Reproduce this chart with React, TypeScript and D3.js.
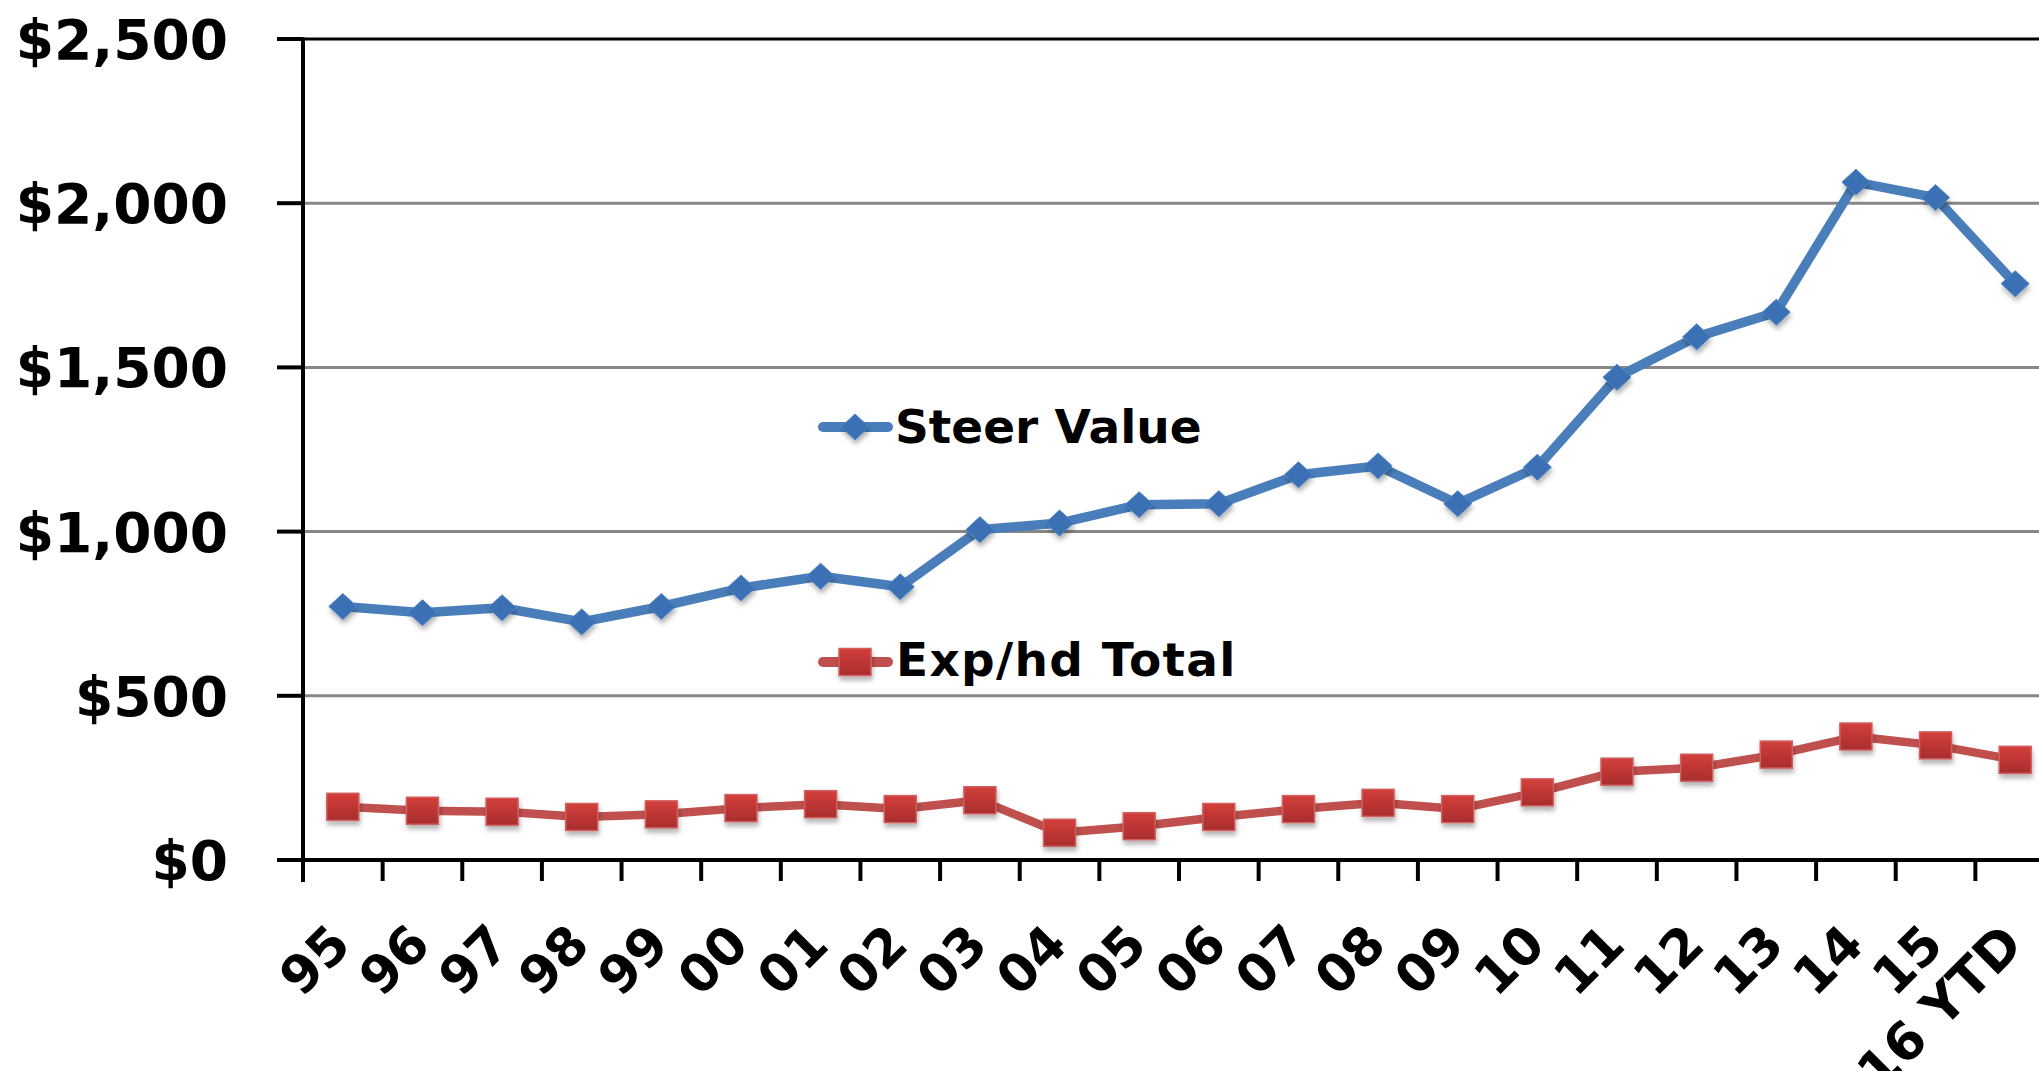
import React from 'react'
import * as d3 from 'd3'

const width = 2039
const height = 1071
const margin = { top: 39, left: 303, bottom: 860, right: 2055 }

const categories = ['95', '96', '97', '98', '99', '00', '01', '02', '03', '04', '05', '06', '07', '08', '09', '10', '11', '12', '13', '14', '15', '16 YTD']
const steerValue = [772, 753, 768, 725, 772, 828, 864, 832, 1006, 1026, 1082, 1085, 1173, 1200, 1085, 1196, 1470, 1593, 1668, 2064, 2017, 1755]
const expPerHead = [162, 150, 147, 131, 139, 158, 170, 155, 182, 83, 103, 131, 155, 174, 155, 206, 269, 281, 321, 376, 349, 305]
const yTicks = [0, 500, 1000, 1500, 2000, 2500]

const blue = '#4a7ebb'
const blueMarker = '#3a6fb5'
const red = '#c0504d'
const font = '"DejaVu Sans", Verdana, sans-serif'

const x = d3.scaleBand().domain(categories).range([margin.left, margin.right])
const y = d3.scaleLinear().domain([0, 2500]).range([margin.bottom, margin.top])
const fmt = d3.format('$,')

const cx = (c: string) => (x(c) as number) + x.bandwidth() / 2

const Diamond = ({ px, py }: { px: number; py: number }) => (
  <path
    d={`M${px},${py - 13} L${px + 14},${py} L${px},${py + 13} L${px - 14},${py} Z`}
    fill={blueMarker}
    stroke="#4f86c6"
    strokeWidth={1}
    filter="url(#shadow)"
  />
)

const Square = ({ px, py }: { px: number; py: number }) => (
  <rect x={px - 16} y={py - 13.5} width={32} height={27} fill="url(#redGrad)" stroke="#d06060" strokeWidth={1.5} filter="url(#shadow)" />
)

const App = () => {
  const line = d3.line<number>().x((d, i) => cx(categories[i])).y(d => y(d))

  return (
    <svg width={width} height={height} style={{ position: 'absolute', left: 0, top: 0, background: '#fff' }}>
      <defs>
        <filter id="shadow" x="-50%" y="-50%" width="200%" height="200%">
          <feDropShadow dx="1" dy="4" stdDeviation="2.5" floodColor="#000" floodOpacity="0.3" />
        </filter>
        <linearGradient id="redGrad" x1="0" y1="0" x2="0" y2="1">
          <stop offset="0" stopColor="#d43f3c" />
          <stop offset="1" stopColor="#a82d2c" />
        </linearGradient>
      </defs>

      {/* gridlines */}
      {yTicks.filter(t => t > 0).map(t => (
        <line key={t} x1={margin.left} x2={width} y1={y(t)} y2={y(t)} stroke={t === 2500 ? '#000' : '#878787'} strokeWidth={3} />
      ))}

      {/* y axis */}
      <line x1={margin.left} x2={margin.left} y1={y(2500) - 1.5} y2={y(0) + 22} stroke="#000" strokeWidth={4} />
      {yTicks.map(t => (
        <g key={t}>
          <line x1={277} x2={margin.left} y1={y(t)} y2={y(t)} stroke="#000" strokeWidth={4} />
          <text x={228} y={y(t) + 20} textAnchor="end" fontFamily={font} fontWeight="bold" fontSize={55}>
            {fmt(t)}
          </text>
        </g>
      ))}

      {/* x axis */}
      <line x1={margin.left - 26} x2={width} y1={y(0)} y2={y(0)} stroke="#000" strokeWidth={4} />
      {categories.map(c => (
        <line key={c} x1={x(c) as number} x2={x(c) as number} y1={y(0)} y2={y(0) + 21} stroke="#000" strokeWidth={4} />
      ))}
      {categories.map(c => (
        <text
          key={c}
          transform={`translate(${cx(c) - 17},${y(0) + 60}) rotate(-45)`}
          textAnchor="end"
          dominantBaseline="hanging"
          fontFamily={font}
          fontWeight="bold"
          fontSize={52}
        >
          {c}
        </text>
      ))}

      {/* series */}
      <path d={line(steerValue) as string} fill="none" stroke={blue} strokeWidth={9.5} strokeLinejoin="round" />
      {steerValue.map((v, i) => (
        <Diamond key={i} px={cx(categories[i])} py={y(v)} />
      ))}
      <path d={line(expPerHead) as string} fill="none" stroke={red} strokeWidth={8.5} strokeLinejoin="round" />
      {expPerHead.map((v, i) => (
        <Square key={i} px={cx(categories[i])} py={y(v)} />
      ))}

      {/* legend */}
      <line x1={823} x2={888} y1={427} y2={427} stroke={blue} strokeWidth={10} strokeLinecap="round" />
      <Diamond px={855} py={427} />
      <text x={895} y={443} fontFamily={font} fontWeight="bold" fontSize={47}>Steer Value</text>
      <line x1={823} x2={888} y1={662} y2={662} stroke={red} strokeWidth={10} strokeLinecap="round" />
      <Square px={855} py={662} />
      <text x={896} y={676} fontFamily={font} fontWeight="bold" fontSize={47} letterSpacing={1.3}>Exp/hd Total</text>
    </svg>
  )
}

export default App
